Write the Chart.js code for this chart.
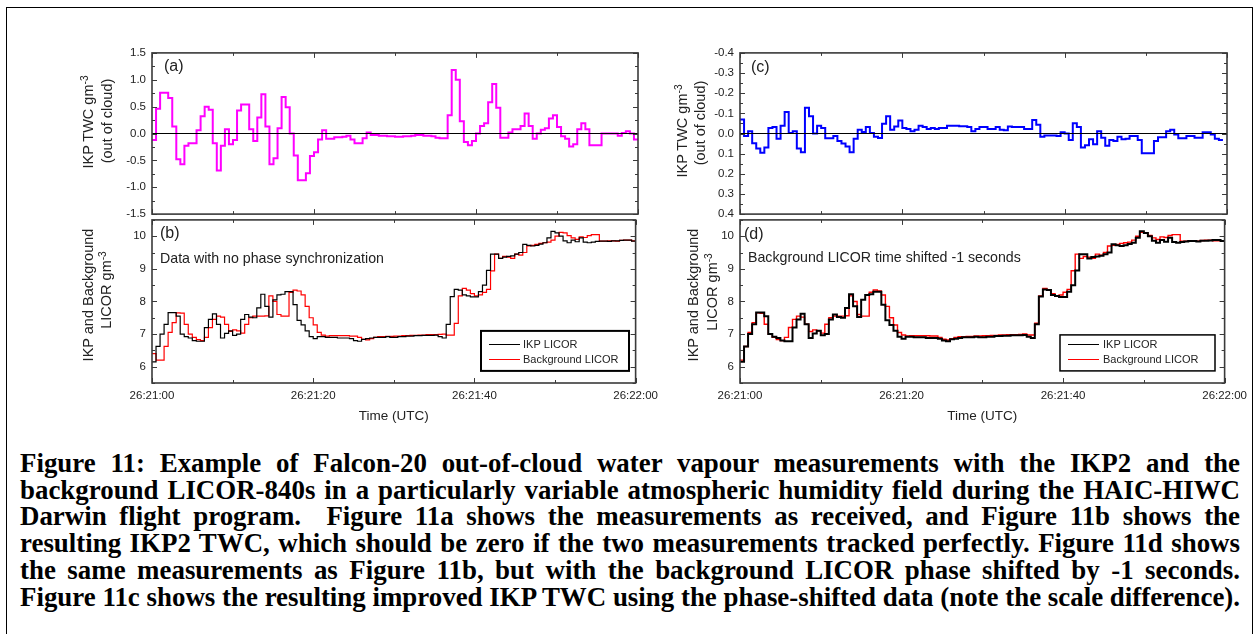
<!DOCTYPE html>
<html>
<head>
<meta charset="utf-8">
<script src="https://cdn.jsdelivr.net/npm/chart.js@4.4.1/dist/chart.umd.min.js"></script>
<style>
  body { margin: 0; background: #fff; width: 1258px; height: 634px; position: relative; overflow: hidden; font-family: 'Liberation Sans', Arial, sans-serif; color: #222; }
  .frame { position: absolute; left: 6px; top: 7px; width: 1245px; height: 640px; border: 1px solid #000; }
  canvas { position: absolute; }
  .txt { position: absolute; white-space: nowrap; }
  .ytitle { position: absolute; width: 300px; height: 20px; line-height: 20px; text-align: center; font-size: 14.5px; transform: rotate(-90deg); white-space: nowrap; }
  .ytitle sup { font-size: 70%; vertical-align: 5px; line-height: 0; }
  .tag { font-size: 16px; }
  .note { font-size: 14.2px; }
  .cap { position: absolute; left: 20px; top: 450px; width: 1220px; font: bold 20px 'Liberation Serif', 'Times New Roman', serif; color: #000; line-height: 26.7px; }
  .cap span { display: inline-block; white-space: pre; transform-origin: 0 50%; }
</style>
</head>
<body>
<div class="frame"></div>

<canvas id="chartA" width="594" height="187" style="left:70px; top:40px;"></canvas>
<canvas id="chartB" width="594" height="223" style="left:70px; top:207px;"></canvas>
<canvas id="chartC" width="595" height="187" style="left:658px; top:40px;"></canvas>
<canvas id="chartD" width="595" height="223" style="left:658px; top:207px;"></canvas>

<!-- y axis titles, centred on (cx, cy) -->
<div class="ytitle" style="left:-62px; top:112px;">IKP TWC gm<sup>-3</sup></div>
<div class="ytitle" style="left:-43px; top:111px;">(out of cloud)</div>
<div class="ytitle" style="left:-62px; top:285px;">IKP and Background</div>
<div class="ytitle" style="left:-44px; top:280px;">LICOR gm<sup>-3</sup></div>
<div class="ytitle" style="left:532px; top:121px;">IKP TWC gm<sup>-3</sup></div>
<div class="ytitle" style="left:550px; top:113px;">(out of cloud)</div>
<div class="ytitle" style="left:543px; top:285px;">IKP and Background</div>
<div class="ytitle" style="left:562px; top:282px;">LICOR gm<sup>-3</sup></div>

<div class="txt tag" style="left:164px; top:57px;">(a)</div>
<div class="txt tag" style="left:160px; top:224px;">(b)</div>
<div class="txt tag" style="left:751px; top:58px;">(c)</div>
<div class="txt tag" style="left:744px; top:225px;">(d)</div>
<div class="txt note" style="left:160px; top:250px;">Data with no phase synchronization</div>
<div class="txt note" style="left:748px; top:249px;">Background LICOR time shifted -1 seconds</div>

<div class="cap">
<span>Figure 11: Example of Falcon-20 out-of-cloud water vapour measurements with the IKP2 and the</span><br>
<span>background LICOR-840s in a particularly variable atmospheric humidity field during the HAIC-HIWC</span><br>
<span>Darwin flight program.  Figure 11a shows the measurements as received, and Figure 11b shows the</span><br>
<span>resulting IKP2 TWC, which should be zero if the two measurements tracked perfectly. Figure 11d shows</span><br>
<span>the same measurements as Figure 11b, but with the background LICOR phase shifted by -1 seconds.</span><br>
<span>Figure 11c shows the resulting improved IKP TWC using the phase-shifted data (note the scale difference).</span>
</div>

<script>
// time axis: samples every 0.5 s starting at 26:21:00
const sampleStep = 0.5;
const timeTicks = [0, 20, 40, 60];
const timeTickLabels = ['26:21:00', '26:21:20', '26:21:40', '26:22:00'];

// y tick values for each panel
const twcRawTicks = [-1.5, -1.0, -0.5, 0.0, 0.5, 1.0, 1.5];
const twcShiftedTicks = [-0.4, -0.3, -0.2, -0.1, 0.0, 0.1, 0.2, 0.3, 0.4];
const licorTicks = [6, 7, 8, 9, 10];

// (a) IKP TWC, out of cloud, no phase sync (g/m3)
const twcRaw = [
  -0.12, 0.46, 0.76, 0.76, 0.66, 0.13, -0.48, -0.57, -0.23, -0.18,
  -0.18, 0.06, 0.32, 0.5, 0.44, -0.18, -0.69, -0.23, 0.08, -0.2,
  -0.12, 0.43, 0.54, 0.54, 0.08, -0.14, 0.3, 0.73, 0.13, -0.57,
  -0.46, 0.1, 0.68, 0.49, 0.0, -0.41, -0.87, -0.87, -0.74, -0.42,
  -0.35, -0.11, 0.06, -0.1, -0.1, -0.07, -0.07, -0.06, -0.04, -0.11,
  -0.18, -0.18, -0.09, 0.02, -0.03, -0.03, -0.04, -0.04, -0.05, -0.05,
  -0.06, -0.06, -0.05, -0.05, -0.04, -0.03, -0.03, -0.04, -0.04, -0.05,
  -0.08, -0.09, -0.09, 0.34, 1.18, 1.0, 0.23, -0.16, -0.22, -0.14,
  0.0, 0.14, 0.19, 0.58, 0.92, 0.48, -0.08, -0.08, 0.02, 0.08,
  0.08, 0.14, 0.37, 0.14, -0.1, 0.0, 0.07, 0.1, 0.28, 0.34,
  0.12, -0.05, -0.1, -0.24, -0.2, 0.08, 0.19, 0.08, -0.22, -0.22,
  -0.22, 0.0, 0.0, 0.0, 0.0, -0.04, 0.01, 0.04, 0.0, -0.11
];

// (c) IKP TWC after -1 s phase shift (axis is reversed)
const twcShifted = [
  -0.07, 0.013, -0.011, 0.048, 0.074, 0.096, 0.069, -0.027, -0.032, 0.026,
  -0.038, -0.107, -0.003, -0.011, 0.074, 0.093, -0.128, -0.086, 0.0, -0.038,
  -0.027, 0.024, 0.024, 0.013, 0.037, 0.05, 0.064, 0.093, 0.026, -0.019,
  -0.008, -0.032, -0.003, 0.016, 0.022, -0.048, -0.086, -0.019, -0.035, -0.064,
  -0.027, -0.022, -0.011, -0.019, -0.038, -0.032, -0.022, -0.027, -0.022, -0.027,
  -0.027, -0.038, -0.038, -0.038, -0.036, -0.036, -0.032, -0.011, -0.022, -0.032,
  -0.032, -0.022, -0.022, -0.032, -0.019, -0.016, -0.035, -0.032, -0.032, -0.032,
  -0.022, -0.022, -0.067, -0.043, 0.016, 0.01, 0.01, 0.01, 0.013, -0.006,
  0.0, 0.032, -0.051, -0.032, 0.069, 0.058, 0.029, 0.053, -0.011, 0.021,
  0.061, 0.032, 0.037, 0.016, 0.029, 0.026, 0.013, 0.013, 0.032, 0.098,
  0.098, 0.098, 0.037, 0.018, 0.018, -0.011, -0.019, 0.005, 0.024, 0.024,
  0.013, 0.013, 0.021, 0.021, -0.006, -0.006, 0.005, 0.026, 0.032
];

// (b)/(d) IKP LICOR (g/m3)
const ikpLicor = [
  6.15, 6.62, 7.0, 7.3, 7.66, 7.66, 7.55, 7.0, 6.92, 6.88,
  6.8, 6.78, 6.78, 7.2, 7.45, 7.62, 7.3, 6.88, 7.02, 7.1,
  6.96, 7.0, 7.45, 7.6, 7.52, 7.5, 7.8, 8.22, 7.85, 7.52,
  8.05, 8.2, 8.22, 8.3, 8.3, 7.9, 7.42, 7.28, 7.1, 6.92,
  6.86, 6.92, 6.92, 6.9, 6.9, 6.9, 6.88, 6.88, 6.88, 6.86,
  6.8, 6.78, 6.84, 6.86, 6.88, 6.9, 6.9, 6.9, 6.92, 6.9,
  6.9, 6.92, 6.92, 6.94, 6.94, 6.95, 6.95, 6.96, 6.96, 6.96,
  6.97, 6.92, 6.88, 7.3, 8.15, 8.37, 8.35, 8.2, 8.17, 8.14,
  8.14, 8.3, 8.5, 8.95, 9.45, 9.45, 9.32, 9.36, 9.38, 9.4,
  9.45, 9.5, 9.75, 9.72, 9.7, 9.72, 9.76, 9.8, 9.95, 10.15,
  10.1, 10.0, 9.86, 9.8, 9.88, 9.83, 9.95, 9.82, 9.8, 9.82,
  9.84, 9.85, 9.85, 9.84, 9.86, 9.86, 9.87, 9.88, 9.88, 9.85
];

// (b) Background LICOR as received
const bgLicor = [
  6.4, 6.2, 6.2, 6.62, 7.05, 7.35, 7.65, 7.64, 7.3, 7.0,
  6.9, 6.83, 6.8, 6.9, 7.2, 7.45, 7.55, 7.52, 7.3, 7.08,
  7.13, 7.1, 7.03, 7.3, 7.5, 7.55, 7.55, 7.55, 7.56, 8.17,
  8.0, 7.6, 7.55, 7.55, 8.28, 8.35, 8.32, 8.2, 7.85, 7.5,
  7.28, 7.05, 6.97, 6.94, 6.95, 6.95, 6.95, 6.95, 6.95, 6.94,
  6.94, 6.9, 6.84, 6.82, 6.86, 6.9, 6.92, 6.92, 6.93, 6.93,
  6.94, 6.94, 6.95, 6.95, 6.96, 6.96, 6.97, 6.97, 6.98, 6.98,
  6.98, 6.99, 7.0, 6.97, 6.97, 7.33, 8.17, 8.4, 8.35, 8.24,
  8.17, 8.2, 8.28, 8.37, 8.94, 9.45, 9.32, 9.38, 9.36, 9.32,
  9.45, 9.42, 9.5, 9.7, 9.72, 9.75, 9.78, 9.8, 9.82, 9.88,
  10.0, 10.12, 10.1, 10.02, 9.95, 9.9, 9.98, 9.96, 10.02, 10.05,
  10.05, 9.85, 9.85, 9.86, 9.86, 9.85, 9.87, 9.88, 9.88, 9.86
];

// (d) Background LICOR, time shifted -1 s
const bgLicorShifted = [
  6.2, 6.62, 7.05, 7.35, 7.65, 7.64, 7.3, 7.0, 6.9, 6.83,
  6.8, 6.9, 7.2, 7.45, 7.55, 7.52, 7.3, 7.08, 7.13, 7.1,
  7.03, 7.3, 7.5, 7.55, 7.55, 7.55, 7.56, 8.17, 8.0, 7.6,
  7.55, 7.55, 8.28, 8.35, 8.32, 8.2, 7.85, 7.5, 7.28, 7.05,
  6.97, 6.94, 6.95, 6.95, 6.95, 6.95, 6.95, 6.94, 6.94, 6.9,
  6.84, 6.82, 6.86, 6.9, 6.92, 6.92, 6.93, 6.93, 6.94, 6.94,
  6.95, 6.95, 6.96, 6.96, 6.97, 6.97, 6.98, 6.98, 6.98, 6.99,
  7.0, 6.97, 6.97, 7.33, 8.17, 8.4, 8.35, 8.24, 8.17, 8.2,
  8.28, 8.37, 8.94, 9.45, 9.32, 9.38, 9.36, 9.32, 9.45, 9.42,
  9.5, 9.7, 9.72, 9.75, 9.78, 9.8, 9.82, 9.88, 10.0, 10.12,
  10.1, 10.02, 9.95, 9.9, 9.98, 9.96, 10.02, 10.05, 10.05, 9.85,
  9.85, 9.86, 9.86, 9.85, 9.87, 9.88, 9.88, 9.86, 9.86, 9.86
];

// sample i holds from t_i to t_i+0.5, so add a closing point
function stepPoints(values) {
  const pts = values.map((v, i) => ({ x: i * sampleStep, y: v }));
  pts.push({ x: values.length * sampleStep, y: values[values.length - 1] });
  return pts;
}

function series(label, values, color, width) {
  return { label: label, data: stepPoints(values), borderColor: color, borderWidth: width,
           stepped: 'before', pointRadius: 0, fill: false };
}

function zeroLine() {
  return { label: 'zero', data: [{ x: 0, y: 0 }, { x: 60, y: 0 }], borderColor: '#000',
           borderWidth: 1, pointRadius: 0, fill: false };
}

// box frame with inward major/minor ticks, like the original plotting package
const tickMarks = {
  id: 'tickMarks',
  afterDatasetsDraw(chart, args, o) {
    const { ctx, chartArea: a, scales } = chart;
    const x = scales.x, y = scales.y;
    ctx.save();
    ctx.strokeStyle = '#3a3a3a';
    ctx.lineWidth = 1;
    ctx.beginPath();
    const nx = Math.round((x.max - x.min) / o.xMinor);
    for (let i = 0; i <= nx; i++) {
      const v = x.min + i * o.xMinor;
      const len = (i % o.xEvery === 0) ? 5 : 3;
      const px = Math.round(x.getPixelForValue(v)) + 0.5;
      ctx.moveTo(px, a.top); ctx.lineTo(px, a.top + len);
      ctx.moveTo(px, a.bottom); ctx.lineTo(px, a.bottom - len);
    }
    const lo = Math.min(y.min, y.max);
    const ny = Math.round(Math.abs(y.max - y.min) / o.yMinor);
    for (let i = 0; i <= ny; i++) {
      const v = lo + i * o.yMinor;
      const isMajor = Math.abs(v / o.yMajor - Math.round(v / o.yMajor)) < 1e-6;
      const len = isMajor ? 5 : 3;
      const py = Math.round(y.getPixelForValue(v)) + 0.5;
      ctx.moveTo(a.left, py); ctx.lineTo(a.left + len, py);
      ctx.moveTo(a.right, py); ctx.lineTo(a.right - len, py);
    }
    ctx.stroke();
    ctx.lineWidth = 1.6;
    ctx.strokeRect(a.left, a.top, a.right - a.left, a.bottom - a.top);
    ctx.restore();
  }
};

// framed legend box placed inside the plot area
const boxLegend = {
  id: 'boxLegend',
  afterDraw(chart, args, o) {
    const { ctx, chartArea: a } = chart;
    const left = a.left + o.dx, top = a.top + o.dy;
    ctx.save();
    ctx.fillStyle = '#fff';
    ctx.fillRect(left, top, o.w, o.h);
    ctx.strokeStyle = '#000';
    ctx.lineWidth = o.border;
    ctx.strokeRect(left, top, o.w, o.h);
    ctx.font = '11px "Liberation Sans", Arial, sans-serif';
    ctx.textBaseline = 'middle';
    o.items.forEach((di, k) => {
      const ds = chart.data.datasets[di];
      const yy = Math.round(top + o.row0 + k * o.rowGap) + 0.5;
      ctx.strokeStyle = ds.borderColor;
      ctx.lineWidth = 1;
      ctx.beginPath();
      ctx.moveTo(left + 8, yy); ctx.lineTo(left + 39, yy);
      ctx.stroke();
      ctx.fillStyle = '#222';
      ctx.fillText(ds.label, left + o.textX, yy);
    });
    ctx.restore();
  }
};

function makePanel(id, cfg) {
  const tickFont = { family: "'Liberation Sans', Arial, sans-serif", size: 11.5 };
  return new Chart(document.getElementById(id), {
    type: 'line',
    data: { datasets: cfg.datasets },
    options: {
      responsive: false,
      animation: false,
      events: [],
      layout: { padding: cfg.padding },
      plugins: {
        legend: { display: false },
        tooltip: { enabled: false },
        tickMarks: cfg.marks,
        boxLegend: cfg.legend || false
      },
      scales: {
        x: {
          type: 'linear', min: 0, max: 60,
          display: cfg.showTime,
          grid: { display: false, drawTicks: false },
          border: { display: false },
          afterBuildTicks: s => { s.ticks = timeTicks.map(v => ({ value: v })); },
          ticks: {
            maxRotation: 0, autoSkip: false, padding: 6,
            color: '#222', font: tickFont,
            callback: (v, i) => timeTickLabels[i]
          },
          title: {
            display: true, text: 'Time (UTC)', color: '#222',
            font: { family: "'Liberation Sans', Arial, sans-serif", size: 13.5 },
            padding: { top: 0, bottom: 6 }
          },
          afterFit: s => { s.height = cfg.showTime ? 47 : 0; }
        },
        y: {
          type: 'linear', min: cfg.yMin, max: cfg.yMax, reverse: !!cfg.reverse,
          grid: { display: false, drawTicks: false },
          border: { display: false },
          afterBuildTicks: s => { s.ticks = cfg.yTicks.map(v => ({ value: v })); },
          ticks: {
            autoSkip: false, padding: 6,
            color: '#222', font: tickFont,
            callback: v => (Math.abs(v) < 1e-9 ? 0 : v).toFixed(cfg.digits)
          },
          afterFit: s => { s.width = 82; }
        }
      }
    },
    plugins: [tickMarks, boxLegend]
  });
}

makePanel('chartA', {
  datasets: [zeroLine(), series('IKP TWC', twcRaw, '#ff00ff', 2)],
  padding: { top: 10, right: 26, bottom: 10, left: 0 },
  showTime: false, yMin: -1.5, yMax: 1.5, yTicks: twcRawTicks, digits: 1,
  marks: { xMinor: 10, xEvery: 2, yMinor: 0.25, yMajor: 0.5 }
});

makePanel('chartB', {
  datasets: [series('IKP LICOR', ikpLicor, '#000000', 1.2), series('Background LICOR', bgLicor, '#ff0000', 1.2)],
  padding: { top: 10, right: 26, bottom: 0, left: 0 },
  showTime: true, yMin: 5.5, yMax: 10.5, yTicks: licorTicks, digits: 0,
  marks: { xMinor: 10, xEvery: 2, yMinor: 0.5, yMajor: 1 },
  legend: { dx: 329, dy: 111, w: 148, h: 40, border: 2, row0: 13, rowGap: 15, textX: 42, items: [0, 1] }
});

makePanel('chartC', {
  datasets: [zeroLine(), series('IKP TWC', twcShifted, '#0000ff', 2)],
  padding: { top: 10, right: 26, bottom: 10, left: 0 },
  showTime: false, yMin: -0.4, yMax: 0.4, yTicks: twcShiftedTicks, digits: 1, reverse: true,
  marks: { xMinor: 10, xEvery: 2, yMinor: 0.05, yMajor: 0.1 }
});

makePanel('chartD', {
  datasets: [series('IKP LICOR', ikpLicor, '#000000', 2), series('Background LICOR', bgLicorShifted, '#ff0000', 1.4)],
  padding: { top: 10, right: 26, bottom: 0, left: 0 },
  showTime: true, yMin: 5.5, yMax: 10.5, yTicks: licorTicks, digits: 0,
  marks: { xMinor: 10, xEvery: 2, yMinor: 0.5, yMajor: 1 },
  legend: { dx: 320, dy: 115, w: 155, h: 36, border: 1.5, row0: 9, rowGap: 15.5, textX: 43, items: [0, 1] }
});

// caption: size the font so the last (unstretched) line fills the block, then justify the rest
const cap = document.querySelector('.cap');
const capLines = Array.from(cap.querySelectorAll('span'));
const target = 1220;
const lastW = capLines[capLines.length - 1].getBoundingClientRect().width;
cap.style.fontSize = (20 * target / lastW).toFixed(2) + 'px';
capLines.forEach(s => {
  const w = s.getBoundingClientRect().width;
  if (w > target) {
    s.style.transform = 'scaleX(' + (target / w) + ')';
  } else {
    const gaps = (s.textContent.match(/ /g) || []).length;
    s.style.wordSpacing = ((target - w) / gaps) + 'px';
  }
});
</script>
</body>
</html>
